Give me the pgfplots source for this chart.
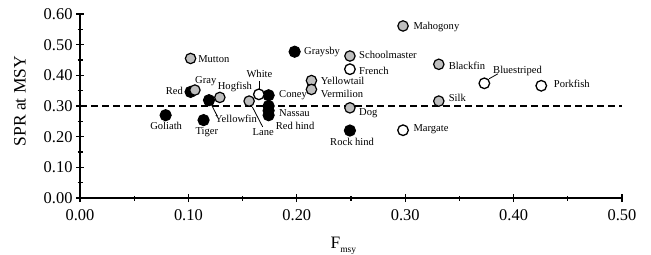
\documentclass[border=0pt]{standalone}
\usepackage{fontspec}
\setmainfont{Liberation Serif}
\usepackage{pgfplots}
\pgfplotsset{compat=1.18}
\definecolor{ptgray}{RGB}{190,190,190}
\newcommand{\lab}{\fontsize{10.6}{11}\selectfont}
\newcommand{\bigf}{\fontsize{16.5}{17}\selectfont}
\newcommand{\labf}{\fontsize{17.5}{18}\selectfont}
\begin{document}
\begin{tikzpicture}[x=1bp,y=1bp]
\path[use as bounding box] (0,0) rectangle (651,254);
\begin{axis}[
  at={(80bp,56bp)}, anchor=south west,
  scale only axis, width=542bp, height=184bp,
  xmin=0, xmax=0.5, ymin=0, ymax=0.6,
  clip=false,
  axis x line*=bottom, axis y line*=left,
  axis line style={line width=1.2bp, -},
  xtick={0,0.1,0.2,0.3,0.4,0.5},
  ytick={0,0.1,0.2,0.3,0.4,0.5,0.6},
  minor x tick num=1, minor y tick num=1,
  tick align=center,
  major tick length=8bp, minor tick length=5bp,
  every tick/.style={black, line width=1.2bp},
  tick label style={font=\bigf},
  /pgf/number format/assume math mode=true,
  xticklabel style={yshift=-4bp, /pgf/number format/.cd, fixed, fixed zerofill, precision=2},
  yticklabel style={/pgf/number format/.cd, fixed, fixed zerofill, precision=2},
  xlabel={F\raisebox{-0.5ex}{\fontsize{9.5}{10}\selectfont msy}},
  xlabel style={font=\labf, at={(axis description cs:0.462,-0.277)}, anchor=base west, inner sep=0pt},
  ylabel={SPR at MSY},
  ylabel style={font=\labf, at={(axis description cs:-0.111,0.526)}, anchor=center, inner sep=0pt},
]
% reference line
\addplot[black, line width=1.2bp, dash pattern=on 7bp off 4bp] coordinates {(0,0.3) (0.5,0.3)};
% black (filled) species
\addplot[only marks, mark=*, mark size=5.6bp, mark options={draw=black, fill=black, line width=1bp}] coordinates {
(0.198,0.477) (0.102,0.346) (0.119,0.319) (0.174,0.335) (0.174,0.300) (0.174,0.285) (0.174,0.270)
(0.114,0.254) (0.079,0.270) (0.249,0.220)};
% gray species
\addplot[only marks, mark=*, mark size=5.2bp, mark options={draw=black, fill=ptgray, line width=1.2bp}] coordinates {
(0.102,0.455) (0.106,0.352) (0.129,0.328) (0.156,0.316) (0.2135,0.383) (0.2135,0.354)
(0.249,0.463) (0.249,0.294) (0.298,0.561) (0.331,0.436) (0.331,0.316)};
% open species
\addplot[only marks, mark=*, mark size=5.3bp, mark options={draw=black, fill=white, line width=1.3bp}] coordinates {
(0.165,0.338) (0.249,0.420) (0.298,0.221) (0.373,0.374) (0.4255,0.366)};
% leader lines
\draw[line width=0.8bp] (axis cs:0.1655,0.355) -- (axis cs:0.1655,0.382);
\draw[line width=0.8bp] (axis cs:0.121,0.306) -- (axis cs:0.1265,0.268);
\draw[line width=0.8bp] (axis cs:0.159,0.297) -- (axis cs:0.1685,0.232);
\draw[line width=0.8bp] (axis cs:0.3775,0.389) -- (axis cs:0.3855,0.405);
% labels
\begin{scope}[every node/.style={font=\lab, inner sep=0pt}]
\node[anchor=west] at (axis cs:0.1089,0.454) {Mutton};
\node[anchor=west] at (axis cs:0.2066,0.476) {Graysby};
\node at (axis cs:0.116,0.381) {Gray};
\node[anchor=east] at (axis cs:0.095,0.350) {Red};
\node[anchor=west] at (axis cs:0.127,0.361) {Hogfish};
\node at (axis cs:0.1655,0.404) {White};
\node[anchor=west] at (axis cs:0.1836,0.337) {Coney};
\node[anchor=west] at (axis cs:0.1836,0.276) {Nassau};
\node[anchor=west] at (axis cs:0.1805,0.235) {Red hind};
\node[anchor=west] at (axis cs:0.1245,0.259) {Yellowfin};
\node at (axis cs:0.169,0.214) {Lane};
\node at (axis cs:0.117,0.214) {Tiger};
\node at (axis cs:0.0795,0.235) {Goliath};
\node[anchor=west] at (axis cs:0.222,0.381) {Yellowtail};
\node[anchor=west] at (axis cs:0.222,0.338) {Vermilion};
\node[anchor=west] at (axis cs:0.2574,0.466) {Schoolmaster};
\node[anchor=west] at (axis cs:0.2574,0.414) {French};
\node[anchor=west] at (axis cs:0.2574,0.276) {Dog};
\node at (axis cs:0.251,0.1815) {Rock hind};
\node[anchor=west] at (axis cs:0.3075,0.5585) {Mahogony};
\node[anchor=west] at (axis cs:0.340,0.431) {Blackfin};
\node[anchor=west] at (axis cs:0.340,0.328) {Silk};
\node[anchor=west] at (axis cs:0.3075,0.224) {Margate};
\node[anchor=west] at (axis cs:0.381,0.414) {Bluestriped};
\node[anchor=west] at (axis cs:0.437,0.371) {Porkfish};
\end{scope}
\end{axis}
\end{tikzpicture}
\end{document}
